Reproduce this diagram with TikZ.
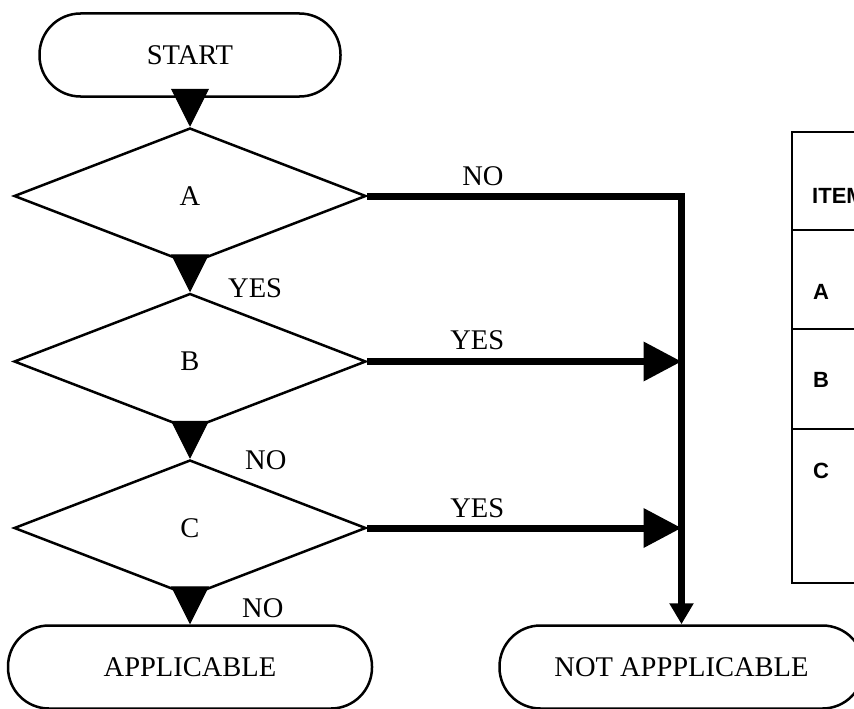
\documentclass[tikz,border=0pt]{standalone}
\usepackage{fontspec}
\setmainfont{Liberation Serif}
\newfontfamily\tablefont{Liberation Sans}
\usepackage{tikz}
\usetikzlibrary{arrows.meta,positioning,shapes.geometric}

\begin{document}
\begin{tikzpicture}[
  x=1pt, y=-1pt,
  font=\fontsize{28.5}{34}\selectfont,
  terminal/.style={
    draw,
    line width=2.5pt,
    rounded corners=41pt,
    minimum width=364pt,
    minimum height=83pt,
    inner sep=0pt
  },
  decision/.style={
    draw,
    diamond,
    line width=2.5pt,
    minimum width=352pt,
    minimum height=136pt,
    inner sep=0pt
  },
  flow/.style={-{Triangle[length=38pt,width=38pt]},line width=1pt},
  branch/.style={-{Triangle[length=38pt,width=38pt]},line width=7pt},
  lbl/.style={inner sep=0pt},
  cell/.style={font=\tablefont\bfseries\fontsize{22}{26}\selectfont,inner sep=0pt,anchor=base west}
]
\useasboundingbox (0,0) rectangle (854,709);
\clip (0,0) rectangle (854,709);

\node[terminal,minimum width=301pt] (start) at (190,55) {START};
\node[decision,below=29pt of start] (a) {A};
\node[decision,below=27pt of a] (b) {B};
\node[decision,below=28pt of b] (c) {C};
\node[terminal,below=27pt of c] (appl) {APPLICABLE};
\node[terminal,right=125pt of appl] (notappl) {NOT APPPLICABLE};

\draw[flow] (start.south) -- (a.north);
\draw[flow] (a.south) -- (b.north);
\draw[flow] (b.south) -- (c.north);
\draw[flow] (c.south) -- (appl.north);

\draw[branch,-{Triangle[length=21pt,width=23pt]}] (a.east) -|
  node[lbl,pos=0.184,above=7pt]{NO} (notappl.north);
\draw[branch] (b.east) -- node[lbl,pos=0.35,above=8pt]{YES} (b.east -| notappl.north);
\draw[branch] (c.east) -- node[lbl,pos=0.35,above=7pt]{YES} (c.east -| notappl.north);

\node[lbl,anchor=base west] (yesa) at ([xshift=38pt,yshift=-5pt]b.north) {YES};
\node[lbl,anchor=base west] (nob) at ([xshift=55pt,yshift=-11pt]c.north) {NO};
\node[lbl,anchor=base west] (noc) at ([xshift=52pt,yshift=7pt]appl.north) {NO};

% item table, cut off at the right edge
\draw[line width=2pt] (792,132) rectangle (880,583);
\foreach \y in {230,329,429}
  \draw[line width=2pt] (792,\y) -- (880,\y);
\node[cell] (itemhead) at (812,203) {ITEM};
\node[cell] (itema) at (813,299) {A};
\node[cell] (itemb) at (813,387) {B};
\node[cell] (itemc) at (813,478) {C};
\end{tikzpicture}
\end{document}
